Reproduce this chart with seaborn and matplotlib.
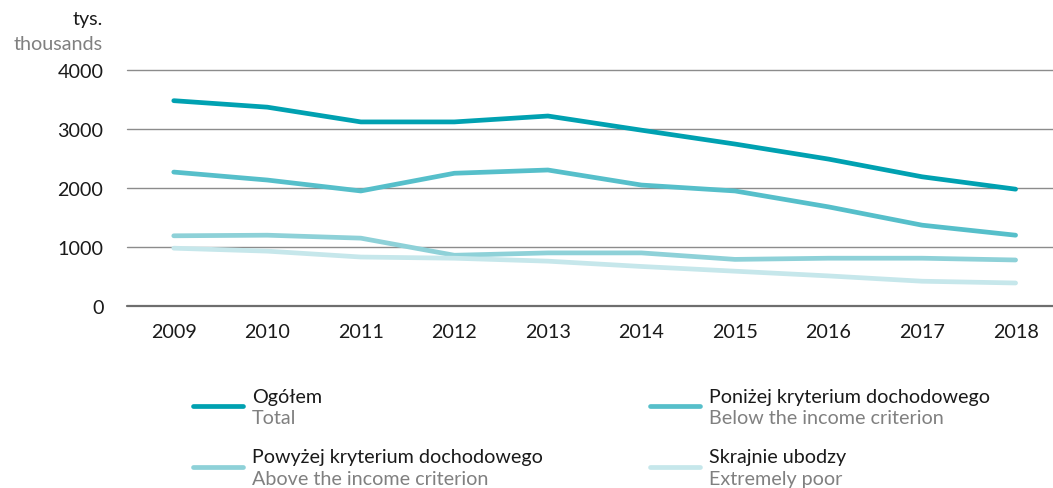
import matplotlib

matplotlib.use("Agg")
import matplotlib.pyplot as plt
import pandas as pd
import seaborn as sns
from matplotlib.lines import Line2D

YEARS = list(range(2009, 2019))
TOTAL = [3480, 3370, 3120, 3120, 3220, 2980, 2745, 2490, 2190, 1980]
BELOW = [2270, 2135, 1950, 2250, 2305, 2050, 1950, 1680, 1370, 1200]
ABOVE = [1190, 1200, 1150, 860, 900, 900, 790, 810, 810, 780]
EXTREME = [980, 930, 830, 810, 760, 670, 590, 510, 420, 390]

SERIES_PL = ["Ogółem", "Poniżej kryterium dochodowego",
             "Powyżej kryterium dochodowego", "Skrajnie ubodzy"]
SERIES_EN = ["Total", "Below the income criterion",
             "Above the income criterion", "Extremely poor"]
COLORS = ["#00a1b1", "#56bfca", "#8ed1d8", "#c6e7eb"]
Y_TICKS = [0, 1000, 2000, 3000, 4000]

FONT = "Lato"
FS = 14.2


def main() -> None:
    sns.set_style("white")
    plt.rcParams["font.family"] = [FONT, "DejaVu Sans"]

    rows = []
    for name, values in zip(SERIES_PL, [TOTAL, BELOW, ABOVE, EXTREME]):
        for year, value in zip(YEARS, values):
            rows.append({"year": year, "value": value, "series": name})
    df = pd.DataFrame(rows)

    fig = plt.figure(figsize=(10.53, 4.89), dpi=100)
    ax = fig.add_axes([127 / 1053, 1 - 307 / 489, 1 - 127 / 1053, (307 - 71) / 489])

    for y in Y_TICKS:
        ax.axhline(y, color="#6e6e6e" if y == 0 else "#8c8c8c",
                   lw=1.6 if y == 0 else 1.0, zorder=0, clip_on=False)

    sns.lineplot(data=df, x="year", y="value", hue="series",
                 hue_order=SERIES_PL, palette=COLORS, linewidth=3.4,
                 legend=False, ax=ax, solid_capstyle="round")

    ax.set_xlim(2008.5, 2018.4)
    ax.set_ylim(0, 4000)
    ax.set_xticks(YEARS)
    ax.set_yticks(Y_TICKS)
    ax.tick_params(axis="both", length=0, labelsize=FS, colors="#1a1a1a")
    ax.tick_params(axis="x", pad=12)
    ax.tick_params(axis="y", pad=17)
    ax.set_xlabel("")
    ax.set_ylabel("")
    sns.despine(ax=ax, left=True, bottom=True, top=True, right=True)

    fig.text(103 / 1053, 1 - 20 / 489, "tys.", ha="right", va="center",
             fontsize=FS, color="#1a1a1a")
    fig.text(103 / 1053, 1 - 44 / 489, "thousands", ha="right", va="center",
             fontsize=FS, color="#808080")

    # legend, two columns
    handle_x = [193, 650]
    row_y = [407, 468]
    for i, (pl, en, color) in enumerate(zip(SERIES_PL, SERIES_EN, COLORS)):
        hx = handle_x[i % 2]
        ry = row_y[i // 2]
        fig.add_artist(Line2D([hx / 1053, (hx + 50) / 1053],
                              [1 - ry / 489, 1 - ry / 489],
                              color=color, lw=3.4, solid_capstyle="round"))
        fig.text((hx + 59) / 1053, 1 - (ry - 10) / 489, pl, ha="left",
                 va="center", fontsize=FS, color="#1a1a1a")
        fig.text((hx + 59) / 1053, 1 - (ry + 12) / 489, en, ha="left",
                 va="center", fontsize=FS, color="#808080")

    fig.savefig("out.png", dpi=100)
    plt.close(fig)


if __name__ == "__main__":
    main()
